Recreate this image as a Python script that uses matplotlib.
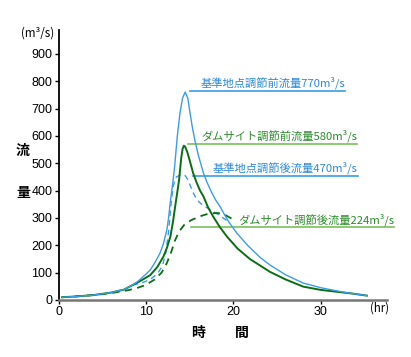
import matplotlib
matplotlib.use("Agg")
import matplotlib.pyplot as plt

plt.rcParams['font.family'] = ['Noto Sans CJK JP', 'DejaVu Sans']

# --- data ---
t_blue = [0.4, 2, 4, 6, 7.5, 8.5, 9.0, 9.5, 10.0, 10.5, 11.0, 11.6, 12.0, 12.4, 12.6,
          12.8, 13.05, 13.3, 13.6, 13.9, 14.2, 14.5, 14.8, 15.06, 15.3, 15.6, 16.0,
          16.6, 17.0, 17.5, 18.0, 18.5, 19.0, 19.5, 20.4, 21.7, 23.1, 24.2, 26, 28,
          30, 31.9, 33.5, 35.3]
v_blue = [10, 13, 18, 27, 38, 55, 66, 80, 94, 110, 135, 170, 205, 256, 300,
          360, 420, 490, 600, 683, 738, 760, 738, 683, 635, 585, 530,
          463, 430, 395, 365, 341, 312, 285, 245, 198, 155, 128, 92, 62,
          45, 33, 24, 16]

t_green = [0.4, 2, 4, 6, 7.5, 8.5, 9.5, 10.5, 11.3, 12, 12.4, 12.8, 13.1, 13.35,
           13.6, 13.8, 14.05, 14.2, 14.35, 14.5, 14.75, 15.06, 15.4, 15.8, 16.2,
           16.6, 17.1, 17.7, 18.5, 19.3, 20.5, 21.9, 24.2, 26,
           28, 30, 31.9, 33.5, 35.3]
v_green = [10, 13, 18, 27, 38, 55, 72, 91, 120, 158, 190, 231, 285, 341,
           395, 439, 520, 552, 564, 560, 540, 505, 465, 430, 400,
           378, 340, 305, 265, 231, 188, 150, 103, 75,
           49, 37, 30, 24, 16]

t_blue_reg = [8.5, 9.5, 10.5, 11.3, 11.9, 12.3, 12.6, 12.85, 13.1, 13.3, 13.5, 14.0,
              14.5, 14.8, 15.06, 15.4, 15.8, 16.2, 16.6, 17.5, 18.5, 19.5]
v_blue_reg = [55, 62, 75, 95, 125, 175, 250, 340, 410, 438, 450, 458,
              455, 440, 420, 393, 368, 355, 345, 328, 308, 285]

t_green_reg = [0.4, 2, 4, 6, 8, 9, 10, 11, 11.8, 12.4, 12.9, 13.3, 13.8, 14.4,
               15.2, 16.2, 17.2, 18.2, 19, 19.8]
v_green_reg = [10, 13, 18, 25, 36, 44, 55, 75, 100, 135, 175, 215, 250, 275,
               292, 306, 316, 318, 312, 298]

labels = ['基準地点調節前流量770m³/s', 'ダムサイト調節前流量580m³/s',
          '基準地点調節後流量470m³/s', 'ダムサイト調節後流量224m³/s']
label_line_y = [763, 572, 452, 267]
label_line_x0 = [15.06, 14.83, 15.4, 15.2]
label_line_x1 = [32.8, 34.2, 34.3, 38.4]
label_text_y = [793, 600, 483, 292]
label_text_x1 = [32.8, 34.2, 34.2, 38.5]

yticks = [0, 100, 200, 300, 400, 500, 600, 700, 800, 900]
xticks = [0, 10, 20, 30]

BLUE = '#3a9de8'
GREEN = '#0a6e12'
BLUE_TXT = '#2a8ad8'
GREEN_TXT = '#2a8a2a'
GREEN_LINE = '#7cc05a'

fig = plt.figure(figsize=(4.11, 3.57), dpi=100)
ax = fig.add_axes([58.5/411, 57/357, (387-58.5)/411, 270/357])

ax.plot(t_blue, v_blue, color=BLUE, lw=1.0, zorder=4)
ax.plot(t_green, v_green, color=GREEN, lw=1.4, zorder=3)
ax.plot(t_blue_reg, v_blue_reg, color=BLUE, lw=1.0, ls=(0, (4, 3)), zorder=2)
ax.plot(t_green_reg, v_green_reg, color=GREEN, lw=1.3, ls=(0, (4, 3)), zorder=2)

line_cols = [BLUE, GREEN_LINE, BLUE, GREEN_LINE]
txt_cols = [BLUE_TXT, GREEN_TXT, BLUE_TXT, GREEN_TXT]
for i in range(4):
    ax.plot([label_line_x0[i], label_line_x1[i]], [label_line_y[i]] * 2,
            color=line_cols[i], lw=1.2, clip_on=False, zorder=1)
    ax.text(label_text_x1[i], label_text_y[i], labels[i], color=txt_cols[i],
            fontsize=8.1, ha='right', va='center', clip_on=False)

ax.set_xlim(0, 37.6)
ax.set_ylim(0, 987)
ax.set_yticks(yticks)
ax.set_xticks(xticks)
ax.tick_params(axis='both', labelsize=9, length=3, width=1, pad=1.5,
               colors='black')
for lab in ax.get_xticklabels() + ax.get_yticklabels():
    lab.set_family(['Liberation Sans', 'DejaVu Sans'])

for s in ['top', 'right']:
    ax.spines[s].set_visible(False)
ax.spines['left'].set_linewidth(1.3)
ax.spines['left'].set_color('black')
ax.spines['bottom'].set_linewidth(1.8)
ax.spines['bottom'].set_color('#777777')

fig.text(38/411, 1 - 33/357, '(m³/s)', fontsize=8.3, ha='center', va='center')
fig.text(379/411, 1 - 308/357, '(hr)', fontsize=8.3, ha='center', va='center')
fig.text(23/411, 1 - 151/357, '流', fontsize=10, fontweight='bold', ha='center', va='center')
fig.text(23/411, 1 - 193/357, '量', fontsize=10, fontweight='bold', ha='center', va='center')
fig.text(198/411, 1 - 333/357, '時', fontsize=10, fontweight='bold', ha='center', va='center')
fig.text(242/411, 1 - 333/357, '間', fontsize=10, fontweight='bold', ha='center', va='center')

fig.savefig('out.png', dpi=100)
